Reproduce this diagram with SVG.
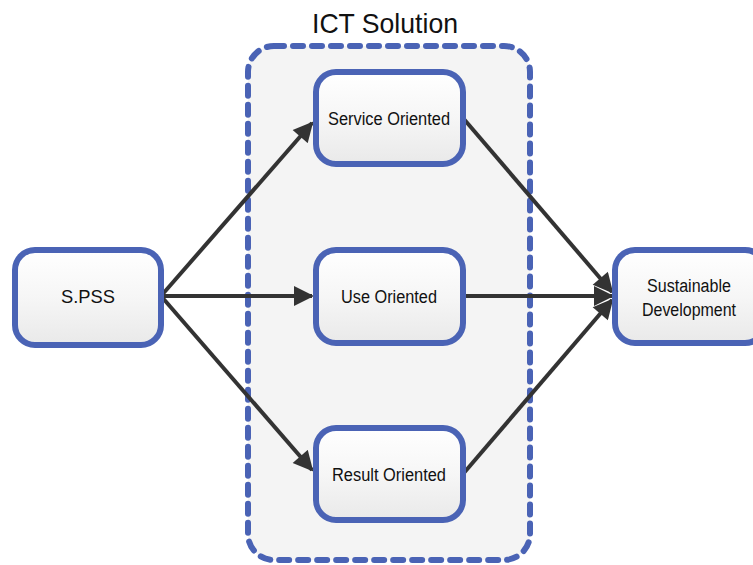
<svg xmlns="http://www.w3.org/2000/svg" width="753" height="565" viewBox="0 0 753 565">
<style>
.node rect{fill:url(#g);stroke:#4a63b5;stroke-width:6}
.lbl{font-family:"Liberation Sans",Arial,sans-serif;font-size:18px;fill:#111;text-anchor:middle}
.conn line{stroke:#333;stroke-width:4;marker-end:url(#ah)}
</style>
<defs>
<linearGradient id="g" x1="0" y1="0" x2="0" y2="1">
<stop offset="0" stop-color="#ffffff"/>
<stop offset="0.5" stop-color="#f6f6f6"/>
<stop offset="1" stop-color="#e9e9e9"/>
</linearGradient>
<marker id="ah" viewBox="0 0 10 10" refX="9" refY="5" markerWidth="5.5" markerHeight="5" orient="auto" markerUnits="strokeWidth">
<path d="M0,0 L10,5 L0,10 z" fill="#333"/>
</marker>
</defs>
<rect width="753" height="565" fill="#fff"/>
<g id="ict-solution">
<rect x="248" y="46" width="282" height="514" rx="26" fill="#f4f4f4" stroke="#4a63b5" stroke-width="6" stroke-dasharray="10 9" stroke-linecap="round"/>
<text x="385" y="33" font-family="'Liberation Sans',Arial,sans-serif" font-size="28" fill="#111" text-anchor="middle" textLength="146" lengthAdjust="spacingAndGlyphs">ICT Solution</text>
</g>
<g class="conn" id="connectors">
<line x1="161" y1="296" x2="312" y2="123"/>
<line x1="161" y1="296" x2="312" y2="296"/>
<line x1="161" y1="296" x2="312" y2="470"/>
<line x1="463" y1="118" x2="612" y2="292"/>
<line x1="463" y1="296" x2="612" y2="296"/>
<line x1="463" y1="474" x2="612" y2="300"/>
</g>
<g class="node" id="spss">
<rect x="15" y="250" width="146" height="95" rx="20"/>
<text class="lbl" x="88" y="303" textLength="54" lengthAdjust="spacingAndGlyphs">S.PSS</text>
</g>
<g class="node" id="service-oriented">
<rect x="316" y="72" width="147" height="92" rx="20"/>
<text class="lbl" x="389" y="125" textLength="122" lengthAdjust="spacingAndGlyphs">Service Oriented</text>
</g>
<g class="node" id="use-oriented">
<rect x="316" y="250" width="147" height="93" rx="20"/>
<text class="lbl" x="389" y="303" textLength="96" lengthAdjust="spacingAndGlyphs">Use Oriented</text>
</g>
<g class="node" id="result-oriented">
<rect x="316" y="428" width="147" height="92" rx="20"/>
<text class="lbl" x="389" y="481" textLength="114" lengthAdjust="spacingAndGlyphs">Result Oriented</text>
</g>
<g class="node" id="sustainable-development">
<rect x="615" y="250" width="150" height="93" rx="20"/>
<text class="lbl" x="689" y="292" textLength="84" lengthAdjust="spacingAndGlyphs">Sustainable</text>
<text class="lbl" x="689" y="316" textLength="94" lengthAdjust="spacingAndGlyphs">Development</text>
</g>
</svg>
